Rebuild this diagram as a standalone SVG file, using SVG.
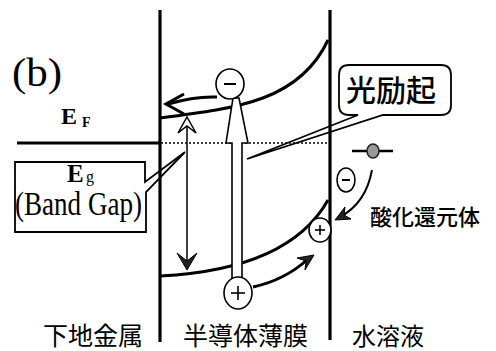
<svg xmlns="http://www.w3.org/2000/svg" width="496" height="351" viewBox="0 0 496 351">
<style>
.ln{stroke:#000;fill:none;stroke-linecap:butt}
.thick{stroke-width:3.2}
.band{stroke-width:3}
.serif{font-family:"Liberation Serif","Times New Roman",serif;fill:#000}
.cjk{font-family:"Noto Sans CJK JP","Noto Sans CJK SC",sans-serif;fill:#000}
.circ{fill:#fff;stroke:#000;stroke-width:1.6}
.call{fill:#fff;stroke:#000;stroke-width:1.8;stroke-linejoin:miter}
.head{fill:#222;stroke:#000;stroke-width:1;stroke-linejoin:miter}
</style>
<rect width="496" height="351" fill="#fff"/>

<g id="callouts">
  <g id="callout-photo">
    <path class="call" d="M349,65 H441 Q451,65 451,75 V105 Q451,115 441,115 H383 L247,159 L358,115 H349 Q339,115 339,105 V75 Q339,65 349,65 Z"/>
    <text class="cjk" x="346" y="101" font-size="30" font-weight="500">光励起</text>
  </g>
  <g id="callout-eg">
    <path class="call" d="M15,162 H145 V182 L185,152 L146,192 V232 H15 Z"/>
    <text class="serif" x="67" y="182" font-size="25" font-weight="bold">E</text>
    <text class="serif" x="86" y="182" font-size="16">g</text>
    <text class="serif" x="15" y="215" font-size="33" textLength="127" lengthAdjust="spacingAndGlyphs">(Band Gap)</text>
  </g>
</g>

<g id="structure">
  <line class="ln thick" x1="160" y1="10" x2="160" y2="342"/>
  <line class="ln thick" x1="330" y1="10" x2="330" y2="340"/>
  <line class="ln thick" x1="17" y1="143" x2="160" y2="143"/>
  <line class="ln" x1="161" y1="143" x2="330" y2="143" stroke-width="1.6" stroke-dasharray="2 2"/>
  <path id="conduction-band" class="ln band" d="M160,118 C240,108 300,100 328,40"/>
  <path id="valence-band" class="ln band" d="M160,276 C240,272 300,250 328,200"/>
</g>

<g id="labels">
  <text class="serif" x="12" y="86" font-size="40" textLength="50" lengthAdjust="spacingAndGlyphs">(b)</text>
  <text class="serif" x="61" y="124" font-size="24" font-weight="bold">E</text>
  <text class="serif" x="82" y="127" font-size="14" font-weight="bold">F</text>
  <text class="cjk" x="370" y="225" font-size="22" font-weight="500">酸化還元体</text>
  <text class="cjk" x="43" y="345" font-size="25">下地金属</text>
  <text class="cjk" x="183" y="345" font-size="25">半導体薄膜</text>
  <text class="cjk" x="352" y="345" font-size="24">水溶液</text>
</g>

<g id="connectors">
  <g id="band-gap-arrow">
    <line class="ln" x1="187" y1="124" x2="187" y2="264" stroke-width="1.5"/>
    <polygon points="187,117 196,133 187,126 178,133" fill="#fff" stroke="#000" stroke-width="1.5"/>
    <polygon class="head" points="187,270 177,253 187,261 197,253"/>
  </g>
  <g id="photo-excitation-arrow">
    <polygon points="232,278 232,143 226,143 233,98 239,98 248,143 242,143 242,278" fill="#fff" stroke="#000" stroke-width="1.6"/>
  </g>
  <g id="electron-to-metal">
    <path class="ln" d="M217,97 Q195,96 168,104" stroke-width="3"/>
    <polyline class="ln" points="184,94 166,104 184,114" stroke-width="3"/>
  </g>
  <g id="hole-to-surface">
    <path class="ln" d="M253,287 Q285,280 308,259" stroke-width="3"/>
    <polygon class="head" points="314,255 305,270 306,261 297,258"/>
  </g>
  <g id="electron-transfer">
    <path class="ln" d="M372,170 Q366,203 340,217" stroke-width="2"/>
    <polygon class="head" points="335,220 351,219 344,215 345,207"/>
  </g>
</g>

<g id="electron-cb">
  <ellipse class="circ" cx="230" cy="84" rx="14" ry="15"/>
  <line class="ln" x1="224" y1="84" x2="236" y2="84" stroke-width="2"/>
</g>
<g id="hole-vb">
  <ellipse class="circ" cx="238" cy="293" rx="14" ry="16"/>
  <line class="ln" x1="231" y1="293" x2="245" y2="293" stroke-width="1.6"/>
  <line class="ln" x1="238" y1="286" x2="238" y2="300" stroke-width="1.6"/>
</g>
<g id="hole-surface">
  <ellipse class="circ" cx="320" cy="230" rx="11" ry="12"/>
  <line class="ln" x1="315" y1="230" x2="325" y2="230" stroke-width="1.6"/>
  <line class="ln" x1="320" y1="225" x2="320" y2="235" stroke-width="1.6"/>
</g>
<g id="electron-solution">
  <ellipse class="circ" cx="346" cy="180" rx="9" ry="12"/>
  <line class="ln" x1="342" y1="180" x2="350" y2="180" stroke-width="2"/>
</g>
<g id="redox-species">
  <line class="ln" x1="352" y1="151" x2="393" y2="151" stroke-width="2.5"/>
  <ellipse cx="373" cy="151" rx="6" ry="7" fill="#999" stroke="#222" stroke-width="1.5"/>
</g>
</svg>
